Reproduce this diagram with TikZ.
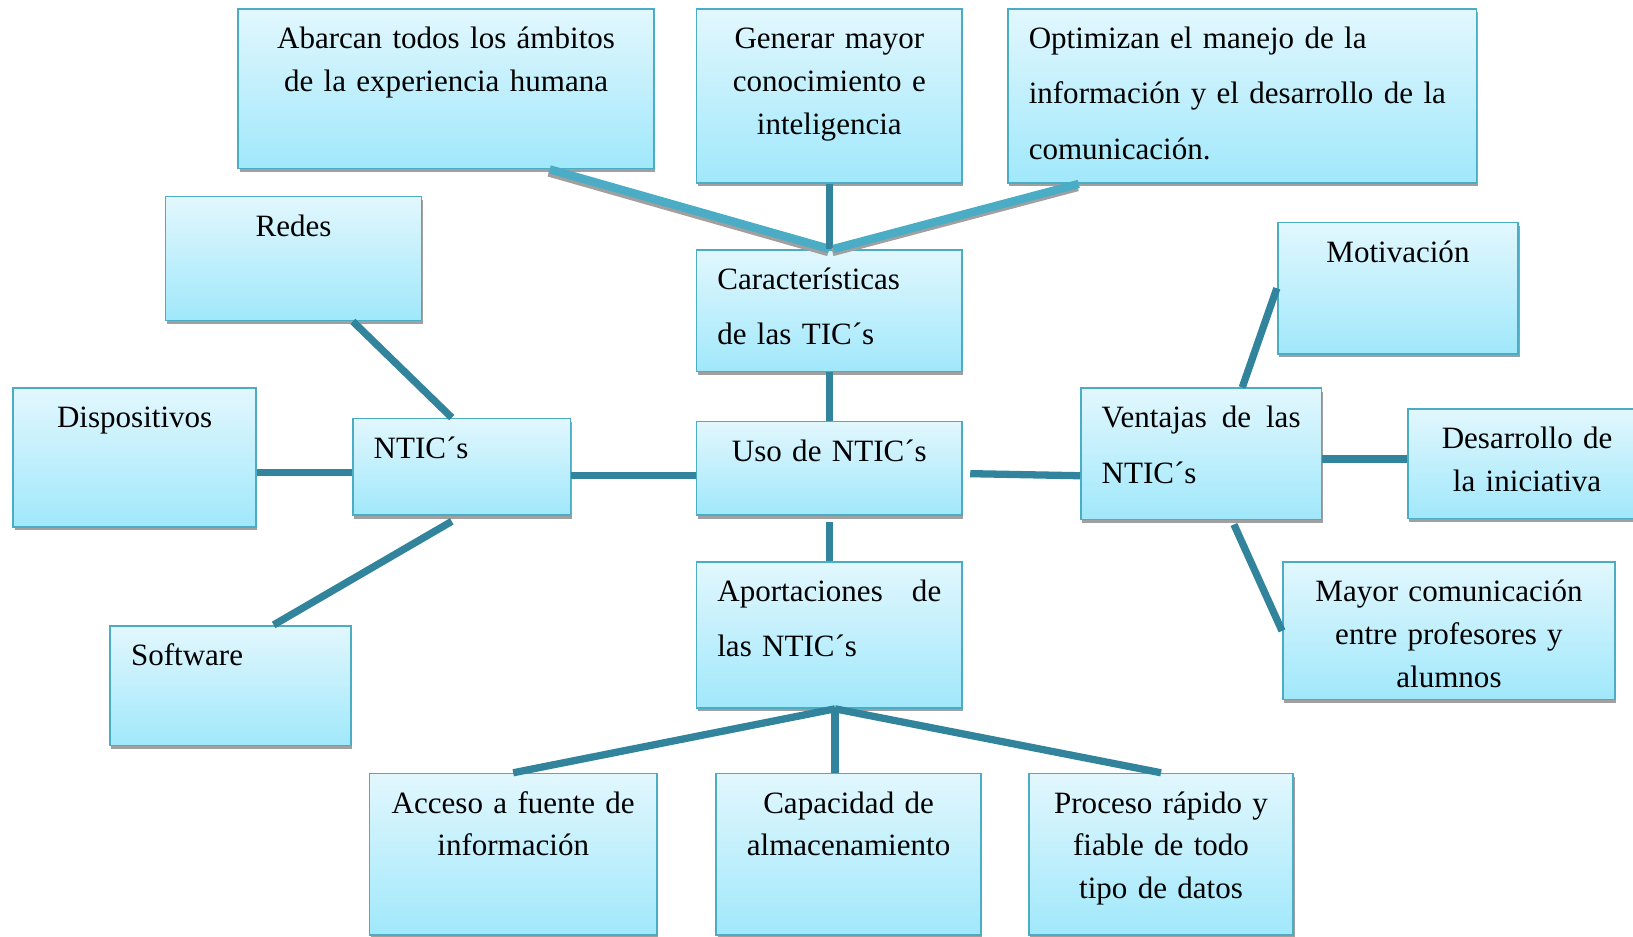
\documentclass[tikz,border=0pt]{standalone}
\usepackage{fontspec}
\setmainfont{Liberation Serif}
\usetikzlibrary{shadows,calc}
\definecolor{bord}{HTML}{4BACC6}
\definecolor{boxtop}{HTML}{E2F7FD}
\definecolor{boxbot}{HTML}{A0E8FB}
\definecolor{darkln}{HTML}{31849B}
\definecolor{shad}{HTML}{A0A0A0}
\begin{document}
\begin{tikzpicture}[x=0.5pt,y=-0.5pt,
 box/.style={draw=bord, line width=0.8pt, top color=boxtop, bottom color=boxbot, anchor=north west, inner ysep=0pt, text height=19pt, font=\fontsize{14.9}{20.5}\selectfont, drop shadow={shadow xshift=0.6pt, shadow yshift=-1.6pt, fill=shad, opacity=1}},
 cbox/.style={box, align=center, inner xsep=5pt},
 lbox/.style={box, align=left, inner xsep=10pt},
 wide/.style={font=\fontsize{14.9}{26.5}\selectfont},
 darkc/.style={draw=darkln, line width=3.5pt},
 lightc/.style={draw=bord, line width=4pt, preaction={draw=shad, line width=4pt, transform canvas={xshift=-0.5pt,yshift=-1.5pt}}},
]
\useasboundingbox (0,0) rectangle (1568,899);

% boxes
\node[cbox, text width=189.5pt, text depth=57.5pt] (abar) at (228,8) {Abarcan todos los ámbitos\\de la experiencia humana};
\node[cbox, text width=117.5pt, text depth=64.5pt] (gen) at (668,8) {Generar mayor\\conocimiento e\\inteligencia};
\node[lbox, wide, text width=205pt, text depth=64.5pt] (opt) at (967,8) {Optimizan el manejo de la\\información y el desarrollo de la\\comunicación.};
\node[cbox, text width=113pt, text depth=40.5pt] (redes) at (158,188) {Redes};
\node[lbox, wide, text width=107.5pt, text depth=39.5pt] (car) at (668,239) {Características\\de las TIC´s};
\node[cbox, text width=105.5pt, text depth=44pt] (mot) at (1226,213) {Motivación};
\node[cbox, text width=106.5pt, text depth=47.5pt] (disp) at (12,372) {Dispositivos};
\node[lbox, text width=84.5pt, text depth=27.5pt] (ntic) at (338,401) {NTIC´s};
\node[cbox, text width=117.5pt, text depth=26pt] (uso) at (668,404) {Uso de NTIC´s};
\node[lbox, wide, text width=95.5pt, text depth=44pt] (ven) at (1037,372) {Ventajas\hfill de\hfill las\\NTIC´s};
\node[cbox, text width=104.5pt, text depth=33.5pt] (des) at (1351,392) {Desarrollo de\\la iniciativa};
\node[lbox, text width=95.5pt, text depth=38.5pt] (soft) at (105,600) {Software};
\node[lbox, wide, text width=107.5pt, text depth=51pt] (apo) at (668,539) {Aportaciones\hfill de\\las NTIC´s};
\node[cbox, text width=149.5pt, text depth=47pt] (may) at (1231,539) {Mayor comunicación\\entre profesores y\\alumnos};
\node[cbox, text width=128pt, text depth=58.5pt] (acc) at (354,742) {Acceso a fuente de\\información};
\node[cbox, text width=117pt, text depth=58.5pt] (cap) at (687,742) {Capacidad de\\almacenamiento};
\node[cbox, text width=117pt, text depth=58.5pt] (pro) at (987,742) {Proceso rápido y\\fiable de todo\\tipo de datos};

% connectors
\draw[lightc] ([xshift=49.75pt]abar.south) -- (car.north);
\draw[darkc] (gen.south) -- (car.north);
\draw[lightc] ([xshift=-78.5pt]opt.south) -- ([xshift=2pt]car.north);
\draw[darkc] (car.south) -- (uso.north);
\draw[darkc] ([xshift=28.5pt]redes.south) -- ([xshift=-4.75pt]ntic.north);
\draw[darkc] ([yshift=-7.25pt]disp.east) -- ([yshift=-2.75pt]ntic.west);
\draw[darkc] ([yshift=-4.25pt]ntic.east) -- ([yshift=-3.5pt]uso.west);
\draw[darkc] ([xshift=20.75pt]soft.north) -- ([xshift=-4.75pt,yshift=-2.5pt]ntic.south);
\draw[darkc] ([xshift=3.5pt,yshift=-2.5pt]uso.east) -- ([yshift=-10.5pt]ven.west);
\draw[darkc] ([xshift=19.75pt]ven.north) -- (mot.west);
\draw[darkc] ([yshift=-2.5pt]ven.east) -- ([yshift=2.25pt]des.west);
\draw[darkc] ([xshift=15.75pt,yshift=-2pt]ven.south) -- (may.west);
\draw[darkc] ([yshift=-3pt]uso.south) -- (apo.north);
\coordinate (apoS) at ([xshift=2.75pt]apo.south);
\draw[darkc] (apoS) -- (acc.north);
\draw[darkc] (apoS) -- ([xshift=-6.5pt]cap.north);
\draw[darkc] (apoS) -- (pro.north);
\end{tikzpicture}
\end{document}
